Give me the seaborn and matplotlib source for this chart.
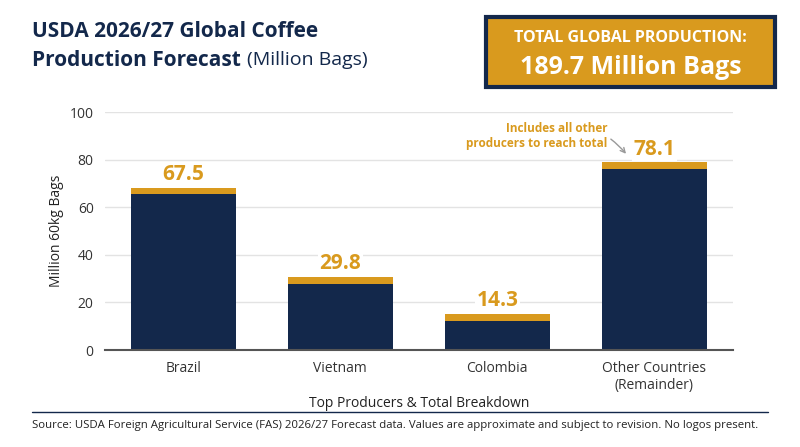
import matplotlib
matplotlib.use("Agg")
import matplotlib.pyplot as plt
import seaborn as sns
import pandas as pd
from matplotlib.patches import FancyBboxPatch

categories = ["Brazil", "Vietnam", "Colombia", "Other Countries\n(Remainder)"]
values = [67.5, 29.8, 14.3, 78.1]
labels = ["67.5", "29.8", "14.3", "78.1"]

NAVY = "#13284b"
GOLD = "#d99a1e"

sns.set_theme(style="white")
plt.rcParams['font.family'] = ['Open Sans', 'DejaVu Sans']

fig = plt.figure(figsize=(8, 4.47), dpi=100)
ax = fig.add_axes([0.131, 0.217, 0.785, 0.532])

df = pd.DataFrame({"cat": categories, "val": values})
W = 0.67
sns.barplot(data=df, x="cat", y="val", color=NAVY, width=W, ax=ax, saturation=1, linewidth=0, zorder=2)
for i, v in enumerate(values):
    ax.bar(i, 2.8, bottom=v - 2.0, width=W, color=GOLD, zorder=3, linewidth=0)
    ax.text(i, v + 2.0, labels[i], ha="center", va="bottom", color=GOLD,
            fontsize=15, fontweight="bold", zorder=4,
            bbox=dict(facecolor="white", edgecolor="none", pad=1))

ax.set_xlim(-0.5, 3.5)
ax.set_ylim(0, 100)
ax.set_yticks([0, 20, 40, 60, 80, 100])
ax.yaxis.grid(True, color="#e3e3e3", linewidth=1, zorder=0)
ax.set_axisbelow(True)
ax.tick_params(axis="both", labelsize=10, colors="#333333", pad=2)
ax.set_ylabel("Million 60kg Bags", fontsize=10, color="#222222")
ax.set_xlabel("Top Producers & Total Breakdown", fontsize=10, color="#222222", labelpad=2)
for s in ["top", "right", "left"]:
    ax.spines[s].set_visible(False)
ax.spines["bottom"].set_color("#555555")
ax.spines["bottom"].set_linewidth(1.5)

ax.annotate("Includes all other\nproducers to reach total", xy=(2.82, 82.5), xytext=(2.7, 90),
            ha="right", va="center", fontsize=8.5, color=GOLD, fontweight="bold", zorder=4,
            bbox=dict(facecolor="white", edgecolor="none", pad=1),
            arrowprops=dict(arrowstyle="->", color="#999999", connectionstyle="arc3,rad=-0.4",
                            shrinkA=2, shrinkB=0))

fig.text(0.04, 0.93, "USDA 2026/27 Global Coffee", fontsize=15, fontweight="bold", color=NAVY, va="center")
t = fig.text(0.04, 0.865, "Production Forecast", fontsize=15, fontweight="bold", color=NAVY, va="center")
fig.canvas.draw()
bb = t.get_window_extent().transformed(fig.transFigure.inverted())
fig.text(bb.x1 + 0.008, 0.865, "(Million Bags)", fontsize=14, color=NAVY, va="center")

box = FancyBboxPatch((0.607, 0.805), 0.362, 0.157, boxstyle="square,pad=0", transform=fig.transFigure,
                     facecolor=GOLD, edgecolor=NAVY, linewidth=3)
fig.patches.append(box)
fig.text(0.788, 0.915, "TOTAL GLOBAL PRODUCTION:", fontsize=11.5, fontweight="bold", color="white", ha="center", va="center")
fig.text(0.788, 0.85, "189.7 Million Bags", fontsize=18, fontweight="bold", color="white", ha="center", va="center")

fig.add_artist(plt.Line2D([0.04, 0.96], [0.078, 0.078], color=NAVY, linewidth=1))
fig.text(0.04, 0.049, "Source: USDA Foreign Agricultural Service (FAS) 2026/27 Forecast data. Values are approximate and subject to revision. No logos present.",
         fontsize=8.2, color="#222222", va="center")

fig.savefig("out.png", dpi=100)
